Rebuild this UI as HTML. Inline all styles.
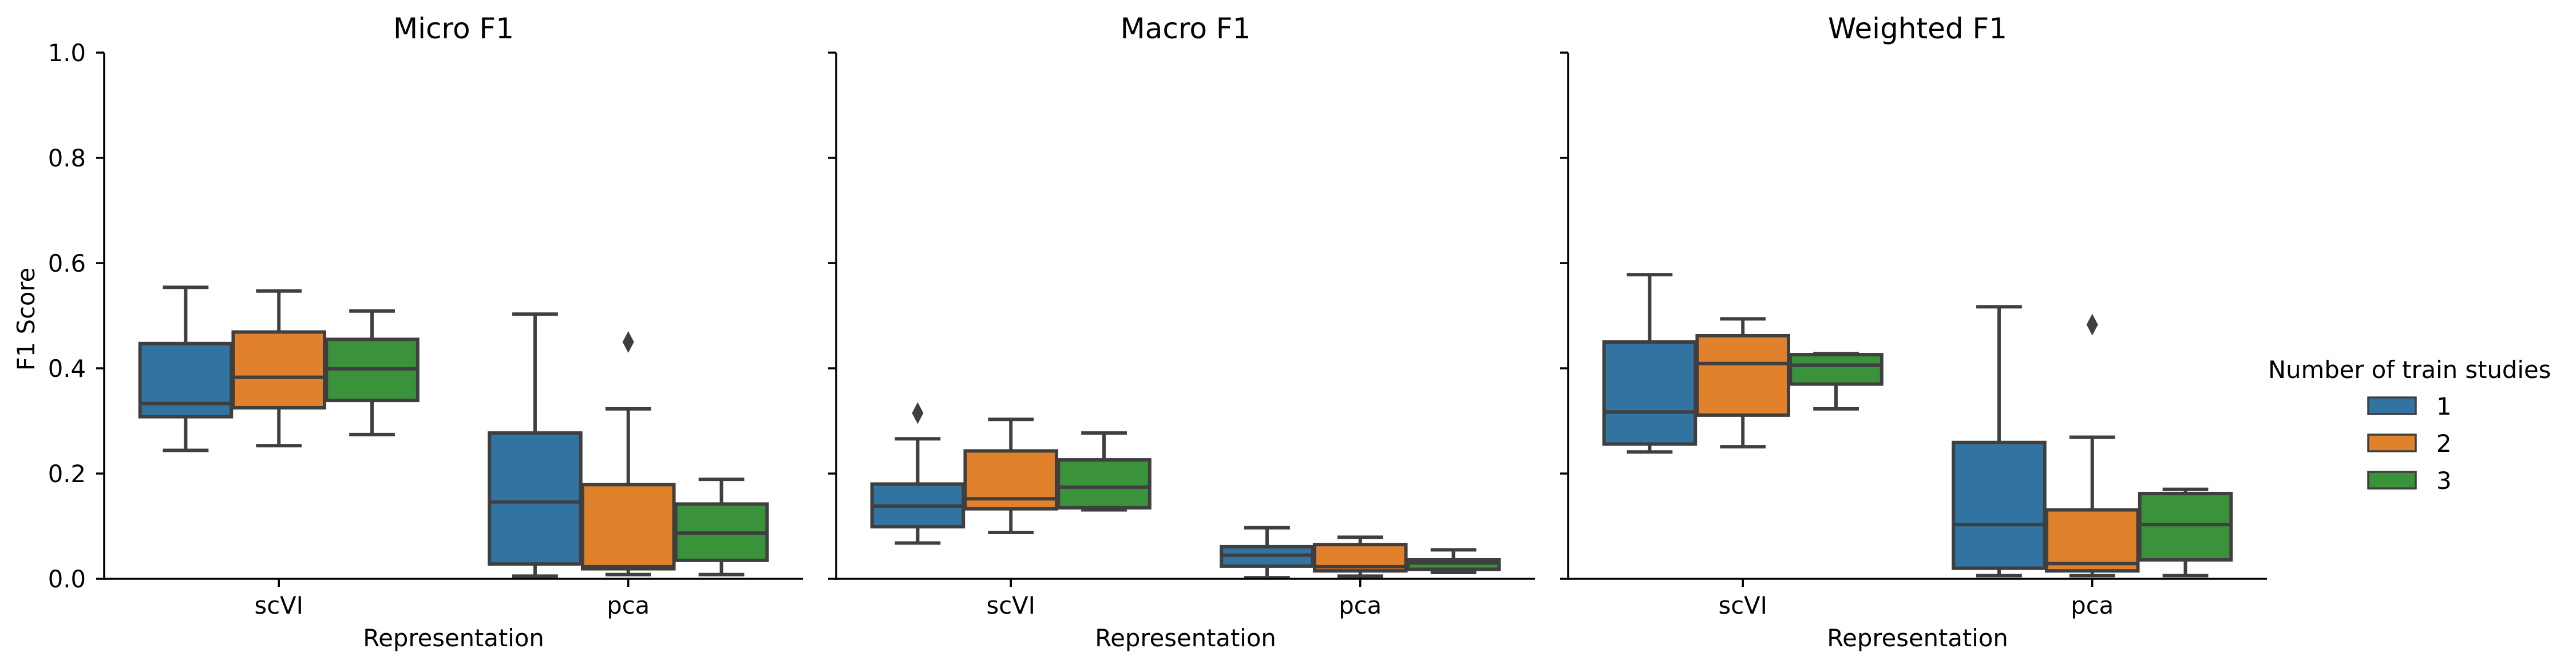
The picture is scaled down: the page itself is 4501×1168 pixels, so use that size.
<!DOCTYPE html>
<html><head><meta charset="utf-8"><style>
html,body{margin:0;padding:0;background:#fff;}
svg{display:block;font-family:"DejaVu Sans","Liberation Sans",sans-serif;}
</style></head><body>
<svg id="chart" width="4501" height="1168" viewBox="0 0 4501 1168" xmlns="http://www.w3.org/2000/svg"></svg>
<script>
const panelTitles = ["Micro F1", "Macro F1", "Weighted F1"];
const categories = ["scVI", "pca"];
const hueLabels = ["1", "2", "3"];
const yTicks = [0.0, 0.2, 0.4, 0.6, 0.8, 1.0];
const yTickLabels = ["0.0", "0.2", "0.4", "0.6", "0.8", "1.0"];
// each box: [low whisker, Q1, median, Q3, high whisker]
const microBoxes = [
  [[0.244,0.308,0.333,0.447,0.554],[0.253,0.325,0.383,0.469,0.547],[0.274,0.339,0.399,0.455,0.509]],
  [[0.005,0.028,0.146,0.277,0.503],[0.008,0.019,0.023,0.179,0.323],[0.008,0.035,0.087,0.142,0.189]]
];
const macroBoxes = [
  [[0.068,0.099,0.138,0.180,0.266],[0.088,0.133,0.152,0.243,0.303],[0.131,0.135,0.174,0.226,0.277]],
  [[0.002,0.024,0.045,0.061,0.097],[0.005,0.015,0.023,0.065,0.079],[0.012,0.018,0.030,0.036,0.055]]
];
const weightedBoxes = [
  [[0.241,0.256,0.317,0.450,0.578],[0.251,0.311,0.409,0.462,0.494],[0.323,0.370,0.406,0.426,0.428]],
  [[0.006,0.020,0.103,0.259,0.517],[0.006,0.015,0.029,0.131,0.269],[0.006,0.036,0.103,0.162,0.170]]
];
// outliers: [category index, hue index, value]
const microOutliers = [[1,1,0.450]];
const macroOutliers = [[0,0,0.315]];
const weightedOutliers = [[1,1,0.483]];

const NS = "http://www.w3.org/2000/svg";
const svg = document.getElementById("chart");
const colors = ["#3274a1","#e1812c","#3a923a"];
const lineCol = "#3f3f3f";
const panelLeft = [182, 1461, 2740];
const panelW = 1221;
const y0 = 1012, y1 = 92;
function yScale(v){ return y0 - (y0 - y1) * v; }
function xCat(p, c){ return panelLeft[p] + panelW * (c + 0.5) / categories.length; }
function xHue(p, c, h){ return xCat(p, c) + (h - 1) * (panelW / 2 * 0.8 / 3); }
const boxW = panelW / 2 * 0.8 / 3 * 0.98;

function mk(tag, attrs, parent){
  const e = document.createElementNS(NS, tag);
  for (const k in attrs) e.setAttribute(k, attrs[k]);
  (parent || svg).appendChild(e);
  return e;
}

const allBoxes = [microBoxes, macroBoxes, weightedBoxes];
const allOutliers = [microOutliers, macroOutliers, weightedOutliers];
const axisNames = ["micro","macro","weighted"];

for (let p = 0; p < 3; p++) {
  const g = mk("g", {});
  
  
  const L = panelLeft[p];
  const t = mk("text", {x: L + panelW/2, y: 67, "text-anchor":"middle", "font-size":"50", fill:"#000"}, g);
  t.textContent = panelTitles[p];
  
  

  // boxes
  for (let c = 0; c < categories.length; c++) {
    for (let h = 0; h < 3; h++) {
      const b = allBoxes[p][c][h];
      const cx = xHue(p, c, h);
      const bg = mk("g", {}, g);
      
      
      mk("line", {x1:cx, x2:cx, y1:yScale(b[0]), y2:yScale(b[1]), stroke:lineCol, "stroke-width":6}, bg);
      mk("line", {x1:cx, x2:cx, y1:yScale(b[3]), y2:yScale(b[4]), stroke:lineCol, "stroke-width":6}, bg);
      mk("line", {x1:cx-boxW/4, x2:cx+boxW/4, y1:yScale(b[0]), y2:yScale(b[0]), stroke:lineCol, "stroke-width":6}, bg);
      mk("line", {x1:cx-boxW/4, x2:cx+boxW/4, y1:yScale(b[4]), y2:yScale(b[4]), stroke:lineCol, "stroke-width":6}, bg);
      mk("rect", {x:cx-boxW/2, y:yScale(b[3]), width:boxW, height:Math.max(0.5, yScale(b[1])-yScale(b[3])), fill:colors[h], stroke:lineCol, "stroke-width":6}, bg);
      mk("line", {x1:cx-boxW/2, x2:cx+boxW/2, y1:yScale(b[2]), y2:yScale(b[2]), stroke:lineCol, "stroke-width":6}, bg);
    }
  }
  for (const o of allOutliers[p]) {
    const cx = xHue(p, o[0], o[1]), cy = yScale(o[2]);
    const d = mk("polygon", {points:`${cx},${cy-19} ${cx+10},${cy} ${cx},${cy+19} ${cx-10},${cy}`, fill:lineCol}, g);
    
    
  }

  // axes
  mk("line", {x1:L, x2:L, y1:y1, y2:y0+2, stroke:"#000", "stroke-width":3.5}, g);
  mk("line", {x1:L-2, x2:L+panelW, y1:y0, y2:y0, stroke:"#000", "stroke-width":3.5}, g);
  for (let i = 0; i < yTicks.length; i++) {
    const yy = yScale(yTicks[i]);
    mk("line", {x1:L-14, x2:L, y1:yy, y2:yy, stroke:"#000", "stroke-width":3.5}, g);
    if (p === 0) {
      const tl = mk("text", {x:150, y:yy+15, "text-anchor":"end", "font-size":"41.7", fill:"#000"}, g);
      tl.textContent = yTickLabels[i];
      
      
    }
  }
  for (let c = 0; c < categories.length; c++) {
    const xx = xCat(p, c);
    mk("line", {x1:xx, x2:xx, y1:y0, y2:y0+14, stroke:"#000", "stroke-width":3.5}, g);
    const xl = mk("text", {x:xx, y:1073, "text-anchor":"middle", "font-size":"41.7", fill:"#000"}, g);
    xl.textContent = categories[c];
    
    
  }
  const xt = mk("text", {x:L+panelW/2, y:1130, "text-anchor":"middle", "font-size":"41.7", fill:"#000"}, g);
  xt.textContent = "Representation";
  
  
}
const yt = mk("text", {x:0, y:0, transform:"translate(60,558) rotate(-90)", "text-anchor":"middle", "font-size":"41.7", fill:"#000"});
yt.textContent = "F1 Score";



// legend
const lg = mk("g", {});


const lt = mk("text", {x:3963, y:661, "font-size":"41.7", fill:"#000"}, lg);
lt.textContent = "Number of train studies";


for (let h = 0; h < 3; h++) {
  const top = 695 + h * 65;
  const e = mk("g", {}, lg);
  
  
  mk("rect", {x:4138, y:top, width:83, height:29, fill:colors[h], stroke:lineCol, "stroke-width":3.5}, e);
  const tx = mk("text", {x:4257, y:top+30, "font-size":"41.7", fill:"#000"}, e);
  tx.textContent = hueLabels[h];
}
</script>
</body></html>
